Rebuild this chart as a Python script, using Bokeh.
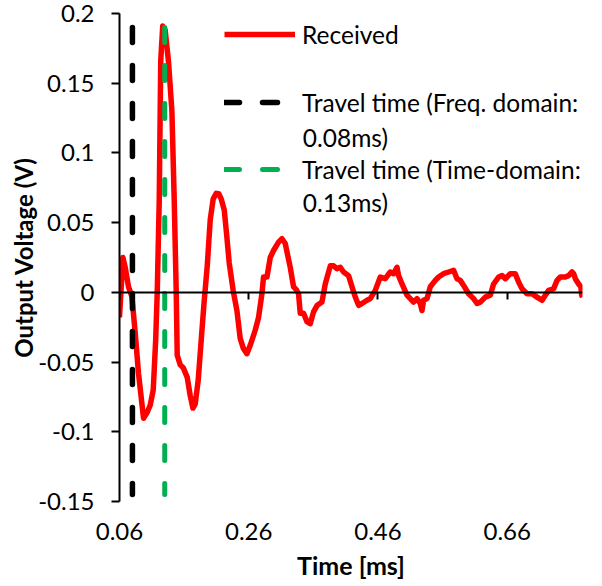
from bokeh.plotting import figure
from bokeh.models import (Range1d, FixedTicker, LinearAxis, Legend, LegendItem, Label)
from bokeh.embed import file_html
from bokeh.resources import INLINE

# ---- data ----
time_ms = [0.0600, 0.0653, 0.0688, 0.0739, 0.0792, 0.0843, 0.0894, 0.0947, 0.0972, 0.1029,
           0.1075, 0.1122, 0.1160, 0.1184, 0.1215, 0.1238, 0.1269, 0.1307, 0.1359, 0.1411,
           0.1447, 0.1478, 0.1493, 0.1540, 0.1586, 0.1648, 0.1694, 0.1736, 0.1772, 0.1818,
           0.1865, 0.1911, 0.1958, 0.2004, 0.2050, 0.2097, 0.2136, 0.2174, 0.2221, 0.2259,
           0.2298, 0.2360, 0.2417, 0.2468, 0.2515, 0.2572, 0.2623, 0.2701, 0.2752, 0.2804,
           0.2829, 0.2882, 0.2933, 0.2984, 0.3061, 0.3114, 0.3165, 0.3242, 0.3293, 0.3335,
           0.3371, 0.3397, 0.3448, 0.3501, 0.3552, 0.3603, 0.3656, 0.3733, 0.3784, 0.3862,
           0.3913, 0.3965, 0.4016, 0.4067, 0.4145, 0.4198, 0.4249, 0.4300, 0.4352, 0.4430,
           0.4481, 0.4558, 0.4636, 0.4713, 0.4790, 0.4841, 0.4894, 0.4919, 0.4972, 0.5049,
           0.5100, 0.5151, 0.5204, 0.5255, 0.5281, 0.5306, 0.5359, 0.5410, 0.5487, 0.5538,
           0.5615, 0.5693, 0.5770, 0.5823, 0.5874, 0.5925, 0.6002, 0.6080, 0.6133, 0.6184,
           0.6261, 0.6338, 0.6389, 0.6467, 0.6520, 0.6571, 0.6648, 0.6725, 0.6776, 0.6829,
           0.6907, 0.6984, 0.7061, 0.7139, 0.7190, 0.7241, 0.7318, 0.7371, 0.7422, 0.7499,
           0.7550, 0.7603, 0.7628, 0.7654, 0.7705, 0.7740, 0.7752, 0.7765]
received_v = [-0.018, 0.025, 0.018, 0.004, -0.003, -0.029, -0.058, -0.080, -0.0903, -0.086,
              -0.081, -0.070, -0.034, 0.0, 0.066, 0.166, 0.191, 0.188, 0.165, 0.130,
              0.066, 0.0, -0.045, -0.052, -0.054, -0.061, -0.074, -0.083, -0.080, -0.063,
              -0.034, -0.006, 0.019, 0.052, 0.067, 0.071, 0.0707, 0.067, 0.059, 0.041,
              0.021, 0.001, -0.013, -0.033, -0.040, -0.044, -0.038, -0.027, -0.018, -0.001,
              0.011, 0.011, 0.025, 0.030, 0.036, 0.0385, 0.035, 0.018, 0.004, 0.002,
              -0.001, -0.015, -0.015, -0.021, -0.0225, -0.014, -0.0095, -0.007, 0.006, 0.019,
              0.019, 0.017, 0.018, 0.0146, 0.012, 0.004, -0.0034, -0.0093, -0.008, -0.0057,
              -0.0045, 0.0014, 0.011, 0.0098, 0.0146, 0.0134, 0.018, 0.012, 0.006, -0.002,
              -0.0045, -0.007, -0.0045, -0.008, -0.013, -0.0057, -0.0045, 0.004, 0.0086, 0.011,
              0.0134, 0.0146, 0.0158, 0.0098, 0.0086, 0.005, -0.001, -0.0045, -0.008, -0.007,
              -0.0034, -0.002, 0.006, 0.011, 0.012, 0.0098, 0.0134, 0.0134, 0.0074, 0.0026,
              -0.001, -0.001, -0.0034, -0.0057, -0.002, 0.0014, 0.0026, 0.0086, 0.011, 0.011,
              0.012, 0.0146, 0.0134, 0.0098, 0.006, 0.004, -0.002, -0.0034]

freq_travel_x = [0.08, 0.08]
time_travel_x = [0.13, 0.13]
travel_y = [0.19, -0.145]

x_ticks = [0.06, 0.26, 0.46, 0.66]
x_tick_labels = ["0.06", "0.26", "0.46", "0.66"]
y_ticks = [-0.15, -0.1, -0.05, 0.0, 0.05, 0.1, 0.15, 0.2]
y_tick_labels = ["-0.15", "-0.1", "-0.05", "0", "0.05", "0.1", "0.15", "0.2"]

legend_labels = ["Received", "Travel time (Freq. domain:", "Travel time (Time-domain:"]
legend_second_lines = ["0.08ms)", "0.13ms)"]
x_title = "Time [ms]"
y_title = "Output Voltage (V)"

FONT = "Lato"
FS = "24px"
FS_LEG = "24.5px"

p = figure(width=600, height=585, output_backend="svg", toolbar_location=None,
           x_range=Range1d(0.06, 0.7765), y_range=Range1d(-0.15, 0.2),
           min_border_left=119, min_border_right=18, min_border_top=13, min_border_bottom=84)
p.outline_line_color = None
p.xgrid.visible = False
p.ygrid.visible = False
p.background_fill_color = "white"

r_red = p.line(time_ms, received_v, line_color="#FF0000", line_width=5.5, line_join="round")
r_blk = p.line(freq_travel_x, travel_y, line_color="#000000", line_width=5.5,
               line_dash="15 23", line_cap="round")
r_grn = p.line(time_travel_x, travel_y, line_color="#00B050", line_width=5,
               line_dash="15 23", line_cap="round")

# y axis
ya = p.yaxis[0]
ya.ticker = FixedTicker(ticks=y_ticks)
ya.major_label_overrides = dict(zip(y_ticks, y_tick_labels))
ya.major_tick_out = 8
ya.major_tick_in = 0
ya.minor_tick_line_color = None
ya.axis_line_width = 2
ya.major_tick_line_width = 2
ya.major_label_standoff = 17
ya.major_label_text_font = FONT
ya.major_label_text_font_size = FS
ya.major_label_text_color = "black"
ya.axis_label = y_title
ya.axis_label_text_font = FONT
ya.axis_label_text_font_size = FS
ya.axis_label_text_font_style = "bold"
ya.axis_label_text_color = "black"
ya.axis_label_standoff = -3

# x axis (tick labels + title, at the bottom)
xa = p.xaxis[0]
xa.ticker = FixedTicker(ticks=x_ticks)
xa.major_label_overrides = dict(zip(x_ticks, x_tick_labels))
xa.axis_line_color = None
xa.major_tick_line_color = None
xa.minor_tick_line_color = None
xa.major_tick_out = 0
xa.major_tick_in = 0
xa.major_label_standoff = 21
xa.major_label_text_font = FONT
xa.major_label_text_font_size = FS
xa.major_label_text_color = "black"
xa.axis_label = x_title
xa.axis_label_text_font = FONT
xa.axis_label_text_font_size = "25px"
xa.axis_label_text_font_style = "bold"
xa.axis_label_text_color = "black"
xa.axis_label_standoff = 7

# x axis line crossing at y = 0 (ticks pointing down)
x0 = LinearAxis(fixed_location=0, ticker=FixedTicker(ticks=x_ticks),
                major_label_text_font_size="0px", major_label_text_color=None,
                major_tick_out=0, major_tick_in=7,
                major_label_standoff=0, axis_line_width=2, major_tick_line_width=2,
                minor_tick_line_color=None)
p.add_layout(x0, "above")

# legend (one box per entry so the glyphs align with the first text line)
legend_tops = [452, 384, 317]
for lbl, rend, vy in zip(legend_labels, [r_red, r_blk, r_grn], legend_tops):
    lg = Legend(items=[LegendItem(label=lbl, renderers=[rend])], location=(105, vy),
                glyph_width=71, glyph_height=30, label_height=30, label_standoff=7,
                padding=0, margin=0, spacing=0, border_line_alpha=0,
                background_fill_alpha=0, label_text_font=FONT,
                label_text_font_size=FS_LEG, label_text_color="black")
    p.add_layout(lg, "center")

for txt, yy in zip(legend_second_lines, [0.1111, 0.0645]):
    p.add_layout(Label(x=0.3436, y=yy, text=txt, text_font=FONT, text_font_size=FS_LEG,
                       text_baseline="middle", text_align="left", text_color="black"))

open("out.html", "w").write(file_html(p, INLINE))
